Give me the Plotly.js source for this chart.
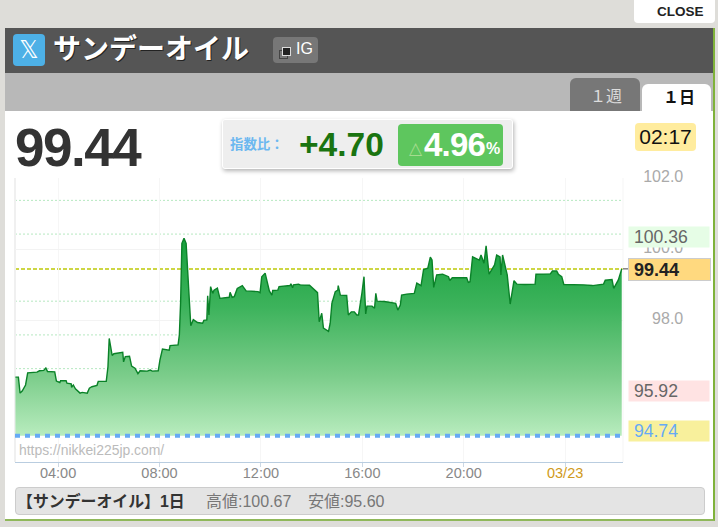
<!DOCTYPE html>
<html><head><meta charset="utf-8">
<script src="https://cdn.plot.ly/plotly-3.0.1.min.js"></script>
<style>
html,body{margin:0;padding:0;width:718px;height:527px;overflow:hidden;background:#deddd9;font-family:"Liberation Sans","Noto Sans CJK JP",sans-serif}
.a{position:absolute;box-sizing:border-box;white-space:nowrap}
#chart{position:absolute;left:0;top:0;width:718px;height:527px}
</style></head><body>
<div class="a" style="left:634px;top:0;width:81px;height:23px;background:#fff;border-radius:0 0 4px 4px;font-weight:bold;font-size:13.5px;color:#222;line-height:23px;padding-left:23px">CLOSE</div>
<div class="a" style="left:5px;top:28px;width:710px;height:493px;background:#fff;border-right:2px solid #7fb23a;border-bottom:2px solid #8fb85a"></div>
<div class="a" style="left:5px;top:28px;width:708px;height:45px;background:#555"></div>
<div class="a" style="left:5px;top:73px;width:708px;height:38px;background:#b8b8b8"></div>
<div class="a" style="left:13px;top:34px;width:32px;height:32px;background:#4db0e6;border-radius:4px;color:#fff;font-size:24px;line-height:32px;text-align:center;font-family:'DejaVu Sans'">𝕏</div>
<div class="a" style="left:53px;top:32px;font-size:28px;font-weight:bold;color:#fff;line-height:36px;text-shadow:1px 1px 0 #222">サンデーオイル</div>
<div class="a" style="left:273px;top:37px;width:45px;height:26px;background:#777;border-radius:4px;color:#fff;font-size:16px;line-height:23px;padding-left:23px">IG</div>
<div class="a" style="left:279px;top:50px;width:9px;height:9px;border:1px solid #444"></div>
<div class="a" style="left:282px;top:47px;width:9px;height:9px;background:#222;border:1px solid #ddd"></div>
<div class="a" style="left:570px;top:78px;width:70px;height:33px;background:#777;border-radius:6px 6px 0 0;color:#ddd;font-size:16px;line-height:37px;text-align:center;padding-left:2px;font-family:'Liberation Serif','Noto Sans CJK JP'">１週</div>
<div class="a" style="left:642px;top:84px;width:69px;height:27px;background:#fff;border-radius:6px 6px 0 0;color:#111;font-size:16px;font-weight:bold;line-height:28px;text-align:center;padding-left:5px">１日</div>
<div class="a" style="left:15px;top:117px;font-size:53px;font-weight:bold;letter-spacing:-1.5px;color:#333;line-height:62px">99.44</div>
<div class="a" style="left:222px;top:119px;width:291px;height:50px;background:#eee;border:1px solid #fff;border-radius:3px;box-shadow:1px 2px 4px rgba(0,0,0,.3)"></div>
<div class="a" style="left:230px;top:136px;font-size:13.4px;font-weight:bold;color:#6cb8f0;line-height:18px">指数比：</div>
<div class="a" style="left:299px;top:125px;font-size:33.5px;font-weight:bold;color:#1a7410;line-height:40px">+4.70</div>
<div class="a" style="left:398px;top:124px;width:105px;height:42px;background:#5ec65e;border-radius:4px"></div>
<div class="a" style="left:409px;top:134px;font-size:17px;color:#a5dc8f;line-height:28px;font-family:'DejaVu Sans'">△</div>
<div class="a" style="left:424px;top:125px;font-size:33px;font-weight:bold;letter-spacing:-.8px;color:#fff;line-height:40px">4.96</div>
<div class="a" style="left:486px;top:139px;font-size:16px;font-weight:bold;color:#fff;line-height:20px">%</div>
<div class="a" style="left:635px;top:123px;width:61px;height:28px;background:#ffec9e;border-radius:4px;font-size:21px;color:#111;line-height:28px;text-align:center">02:17</div>
<div class="a" style="left:15px;top:487px;width:690px;height:28px;background:#e4e4e4;border:1px solid #ccc;border-radius:4px"></div>
<div class="a" style="left:17px;top:492px;font-size:15.9px;font-weight:bold;color:#333;line-height:20px">【サンデーオイル】1日</div>
<div class="a" style="left:206px;top:492px;font-size:16px;color:#777;line-height:20px">高値:100.67</div>
<div class="a" style="left:308px;top:492px;font-size:16px;color:#777;line-height:20px">安値:95.60</div>
<div id="chart"></div>
<script>
// Time in minutes from 00:00 on the first day
const minutes=[139,146,150,155,163,168,190,196,206,211,215,232,236,244,246,259,261,271,272,276,281,287,292,297,309,314,320,332,335,354,358,361,365,368,372,393,395,399,409,414,422,429,434,451,458,463,477,481,487,503,505,524,527,530,533,538,543,546,551,554,560,570,582,585,592,594,597,601,606,609,617,623,645,647,652,657,664,676,685,713,718,722,730,735,740,746,748,760,763,789,791,795,797,809,813,835,844,854,858,864,868,880,884,888,896,902,903,908,923,927,934,941,947,951,959,964,968,971,983,989,992,995,1012,1023,1039,1044,1050,1053,1065,1083,1089,1099,1105,1115,1121,1125,1129,1136,1150,1164,1167,1173,1207,1211,1215,1221,1237,1241,1248,1253,1260,1273,1278,1286,1288,1292,1298,1303,1310,1319,1326,1345,1369,1371,1405,1410,1420,1424,1432,1437,1483,1505,1531,1535,1551,1555,1566,1574];
const prices=[96.39,96.39,95.94,96.00,96.17,96.51,96.53,96.57,96.58,96.65,96.55,96.54,96.28,96.24,96.29,96.29,96.22,96.20,96.10,96.17,96.06,96.00,95.94,95.96,95.94,96.08,96.12,96.16,96.27,96.27,96.68,97.48,97.25,97.00,97.05,97.09,96.82,96.97,96.98,96.70,96.64,96.49,96.57,96.56,96.59,96.56,96.57,96.87,97.18,97.15,97.28,97.30,97.58,98.51,100.16,100.30,100.16,99.46,98.23,97.84,98.01,97.93,97.91,97.99,98.00,98.68,98.14,98.94,98.75,98.84,98.90,98.61,98.64,98.78,98.64,98.66,98.89,98.97,98.82,98.80,98.77,99.22,99.32,99.08,98.82,98.70,98.83,98.84,98.94,98.97,99.02,98.91,98.99,99.01,98.99,98.98,98.87,98.77,97.95,98.19,97.77,97.68,97.91,98.47,98.80,98.84,98.97,98.70,98.69,98.14,98.23,98.23,98.14,98.14,98.75,99.22,98.17,98.39,98.39,98.33,98.75,98.53,98.52,98.50,98.47,98.28,98.42,98.70,98.73,98.75,99.04,98.97,99.42,99.46,99.77,99.69,98.92,99.27,99.29,99.22,99.11,99.19,99.19,99.06,99.08,99.78,99.69,99.83,99.60,100.09,99.29,99.55,99.83,99.78,99.27,99.83,99.50,99.27,98.45,99.11,99.01,99.00,99.01,99.29,99.30,99.38,99.38,99.29,99.22,99.00,98.99,98.97,99.01,99.12,99.14,98.89,99.13,99.44];
const xTickVals=[240,480,720,960,1200,1440];
const xTickText=['04:00','08:00','12:00','16:00','20:00','<span style="color:#d09a20">03/23</span>'];
const yTickVals=[102,100,98];
const yTickText=['102.0','100.0','\u00a0\u00a098.0'];
const percentLevels=[95.69,96.63,97.58,98.53,100.42,101.37];
const lastPrice=99.44, basePrice=94.74, highLevel=100.36, lowLevel=95.92;
const xRange=[138,1577], yRange=[94,102];

const shapes=[];
percentLevels.forEach(v=>shapes.push({type:'line',xref:'paper',x0:0,x1:1,yref:'y',y0:v,y1:v,layer:'below',line:{color:'#b5e8c0',width:1,dash:'2px,2px'}}));
shapes.push({type:'line',xref:'paper',x0:0,x1:1,yref:'y',y0:lastPrice,y1:lastPrice,layer:'below',line:{color:'#cdd644',width:2,dash:'4px,2px'}});
shapes.push({type:'line',xref:'paper',x0:0,x1:1,yref:'y',y0:basePrice,y1:basePrice,layer:'above',line:{color:'#66aaf5',width:4,dash:'5px,5px'}});
shapes.push({type:'line',xref:'paper',x0:0,x1:0,yref:'paper',y0:0,y1:1,layer:'below',line:{color:'#f0f0f0',width:2}});
shapes.push({type:'line',xref:'paper',x0:1,x1:1,yref:'paper',y0:0,y1:1,layer:'below',line:{color:'#f5f5f5',width:1}});
shapes.push({type:'line',xref:'paper',x0:1,x1:1.011,yref:'y',y0:lastPrice,y1:lastPrice,layer:'above',line:{color:'#444',width:1}});

function tag(v,text,bg,color,shift,bold,w,extra){
  return Object.assign({xref:'paper',yref:'y',x:1.0082,y:v,xanchor:'left',yanchor:'middle',yshift:shift,
    text:bold?'<b>'+text+'</b>':text,showarrow:false,bgcolor:bg,width:w,height:20,align:'left',borderpad:0,
    font:{family:'Liberation Sans',size:17.6,color:color}},extra||{});
}
const annotations=[
  tag(highLevel,'&nbsp;'+highLevel.toFixed(2),'#e6fde6','#666',-1,false,80),
  tag(lastPrice,'&nbsp;'+lastPrice.toFixed(2),'#ffd97f','#222',-1,true,81,{height:21,bordercolor:'#ccc',borderwidth:1,font:{family:'Liberation Sans',size:18,color:'#222'}}),
  tag(lowLevel,'&nbsp;'+lowLevel.toFixed(2),'#ffe3e3','#666',3,false,80),
  tag(basePrice,'&nbsp;'+basePrice.toFixed(2),'#f8f09c','#66aaf5',5,false,80),
  {xref:'paper',yref:'paper',x:0.003,y:0.042,xanchor:'left',yanchor:'middle',showarrow:false,text:'https://nikkei225jp.com/',font:{family:'Liberation Sans',size:13.9,color:'#bbb'}}
];

const traces=[
  {x:minutes,y:minutes.map(()=>basePrice),mode:'lines',line:{width:0},hoverinfo:'skip',showlegend:false},
  {x:minutes,y:prices,mode:'lines',fill:'tonexty',showlegend:false,hoverinfo:'skip',
   line:{color:'#0a8228',width:1.4,shape:'linear'},
   fillcolor:'#5cc070',
   fillgradient:{type:'vertical',start:100.3,stop:94.74,
     colorscale:[[0,'#17a03c'],[0.35,'#3db35c'],[0.7,'#7ccd8b'],[1,'#b8ecbe']]}}
];

const layout={
  width:718,height:527,margin:{l:15,r:95,t:178,b:65,pad:0},
  paper_bgcolor:'rgba(0,0,0,0)',plot_bgcolor:'#fff',showlegend:false,hovermode:false,
  font:{family:'Liberation Sans'},
  xaxis:{range:xRange,tickmode:'array',tickvals:xTickVals,ticktext:xTickText,showgrid:true,gridcolor:'#f6f6f6',gridwidth:1,
    zeroline:false,showline:true,linecolor:'#b9cde0',linewidth:1,ticks:'outside',ticklen:4,tickcolor:'#ccd8e4',ticklabelstandoff:-6,
    tickfont:{family:'Liberation Sans',size:14.5,color:'#888'},fixedrange:true},
  yaxis:{range:yRange,side:'right',tickmode:'array',tickvals:yTickVals,ticktext:yTickText,showgrid:true,gridcolor:'#f3f3f3',gridwidth:1,
    zeroline:false,showline:false,ticks:'outside',ticklen:16,tickcolor:'rgba(0,0,0,0)',ticklabelshift:-2,
    tickfont:{family:'Liberation Sans',size:16,color:'#aaa'},fixedrange:true},
  shapes:shapes,annotations:annotations
};
Plotly.newPlot('chart',traces,layout,{displayModeBar:false,staticPlot:true});
</script>
</body></html>
